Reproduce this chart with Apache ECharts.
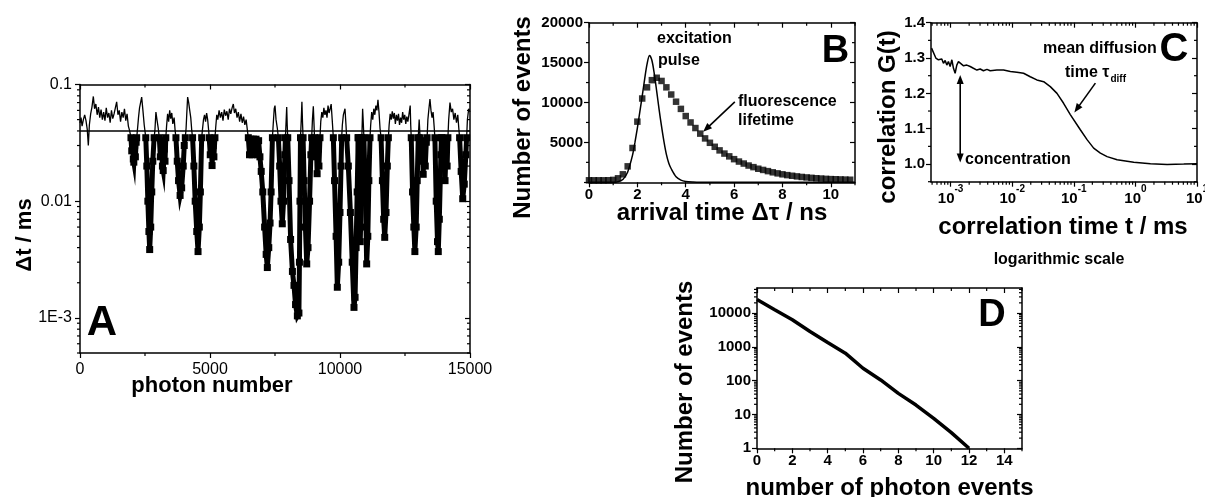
<!DOCTYPE html>
<html><head><meta charset="utf-8">
<script src="https://cdn.jsdelivr.net/npm/echarts@6/dist/echarts.min.js"></script>
<style>html,body{margin:0;padding:0;background:#fff}#c{width:1205px;height:497px}</style>
</head><body><div id="c"></div>
<script>
// ---------------- DATA ----------------
// Panel A: inter-photon time trace (photon number, Δt in ms)
const threshold = 0.035;
const traceNoise = [
[0,0.047],[40,0.052],[80,0.044],[130,0.05],[180,0.055],[230,0.049],[280,0.041],[320,0.030],[360,0.045],[410,0.056],[460,0.064],[513,0.079],[560,0.062],[610,0.068],[660,0.055],[710,0.064],[760,0.052],[810,0.061],[860,0.050],[910,0.058],[960,0.049],[1010,0.063],[1060,0.052],[1110,0.057],[1160,0.047],[1210,0.060],[1260,0.051],[1310,0.056],[1360,0.063],[1410,0.071],[1460,0.055],[1510,0.060],[1560,0.048],[1610,0.058],[1660,0.052],[1710,0.062],[1760,0.049],[1810,0.056],[1860,0.044],[1910,0.040],
[2210,0.041],[2250,0.052],[2290,0.063],[2330,0.070],[2372,0.078],[2420,0.060],[2470,0.045],
[2880,0.040],[2920,0.058],[2960,0.050],[3010,0.042],
[3330,0.044],[3370,0.056],[3410,0.048],[3450,0.060],[3490,0.051],[3530,0.057],[3570,0.046],[3620,0.052],[3660,0.040],
[4080,0.042],[4110,0.058],[4140,0.078],[4180,0.070],[4220,0.060],[4260,0.052],[4300,0.040],
[4710,0.041],[4750,0.050],[4790,0.055],[4830,0.048],[4870,0.057],[4910,0.050],[4950,0.040],
[5220,0.043],[5260,0.055],[5300,0.050],[5350,0.060],[5400,0.052],[5450,0.058],[5500,0.049],[5550,0.061],[5600,0.054],[5650,0.059],[5700,0.050],[5750,0.062],[5800,0.056],[5850,0.063],[5897,0.068],[5940,0.057],[5990,0.062],[6040,0.052],[6090,0.058],[6140,0.048],[6190,0.056],[6240,0.047],[6290,0.053],[6340,0.045],[6390,0.050],[6440,0.040],
[7430,0.045],[7470,0.062],[7500,0.066],[7540,0.050],[7590,0.042],
[7930,0.050],[7950,0.064],[7970,0.045],
[8510,0.050],[8535,0.071],[8560,0.046],
[8940,0.050],[8974,0.065],[9000,0.046],
[9260,0.048],[9300,0.058],[9340,0.052],[9380,0.063],[9420,0.055],[9460,0.060],[9500,0.052],[9540,0.066],[9580,0.057],[9620,0.062],[9660,0.068],[9700,0.050],
[10090,0.045],[10130,0.055],[10192,0.062],[10230,0.045],
[10870,0.062],[10890,0.050],
[11180,0.045],[11220,0.058],[11260,0.050],[11300,0.062],[11340,0.055],[11380,0.066],[11420,0.060],[11460,0.074],[11500,0.058],[11540,0.042],
[11890,0.045],[11930,0.056],[11970,0.050],[12010,0.059],[12050,0.051],[12090,0.057],[12130,0.046],[12170,0.055],[12210,0.049],[12250,0.056],[12290,0.045],[12330,0.052],[12370,0.047],[12410,0.058],[12450,0.050],[12490,0.055],[12530,0.046],[12570,0.053],[12610,0.048],[12650,0.055],[12700,0.066],[12720,0.045],
[13045,0.050],
[13380,0.050],[13420,0.062],[13460,0.075],[13500,0.060],[13540,0.052],[13580,0.058],[13620,0.044],
[14180,0.050],[14230,0.070],[14280,0.058],[14330,0.062],[14380,0.050],[14430,0.057],[14480,0.047],[14530,0.055],[14570,0.042],
[14900,0.050],[14950,0.062],[15000,0.058]
];
// photon bursts (points below threshold)
const bursts = [
[[1960,0.035],[1990,0.027],[2020,0.033],[2050,0.023],[2070,0.0216],[2100,0.03],[2130,0.024],[2160,0.032],[2180,0.035]],
[[2530,0.035],[2570,0.02],[2610,0.01],[2650,0.0055],[2680,0.00385],[2720,0.006],[2760,0.012],[2800,0.022],[2850,0.035]],
[[3050,0.035],[3090,0.024],[3130,0.033],[3170,0.02],[3200,0.0183],[3240,0.028],[3270,0.022],[3300,0.035]],
[[3690,0.035],[3740,0.022],[3790,0.015],[3850,0.0112],[3910,0.013],[3970,0.02],[4010,0.03],[4050,0.035]],
[[4330,0.035],[4380,0.02],[4430,0.01],[4490,0.0055],[4540,0.0037],[4590,0.006],[4630,0.012],[4680,0.035]],
[[4970,0.035],[5010,0.025],[5050,0.033],[5080,0.0202],[5120,0.03],[5150,0.024],[5190,0.035]],
[[6474,0.035],[6520,0.025],[6570,0.034],[6620,0.025],[6670,0.034],[6720,0.026],[6770,0.034],[6820,0.025],[6870,0.033],[6920,0.024],[6970,0.018],[7030,0.012],[7100,0.006],[7160,0.0035],[7205,0.0027],[7260,0.004],[7310,0.0065],[7350,0.012],[7400,0.035]],
[[7630,0.035],[7680,0.02],[7730,0.01],[7780,0.0064],[7830,0.01],[7880,0.025],[7900,0.035]],
[[7990,0.035],[8040,0.015],[8100,0.0047],[8170,0.0025],[8230,0.0019],[8290,0.0013],[8360,0.00104],[8420,0.0011],[8440,0.003],[8460,0.01],[8480,0.035]],
[[8580,0.035],[8620,0.015],[8670,0.006],[8720,0.0029],[8770,0.004],[8830,0.01],[8880,0.025],[8910,0.035]],
[[9020,0.035],[9060,0.024],[9090,0.033],[9120,0.0172],[9160,0.028],[9190,0.02],[9230,0.035]],
[[9744,0.035],[9790,0.015],[9850,0.005],[9897,0.00183],[9950,0.003],[10000,0.008],[10040,0.02],[10064,0.035]],
[[10256,0.035],[10320,0.02],[10400,0.008],[10470,0.003],[10538,0.00123],[10580,0.0015],[10620,0.004],[10660,0.012],[10700,0.035]],
[[10700,0.035],[10740,0.012],[10780,0.0045],[10820,0.012],[10840,0.035]],
[[10920,0.035],[10960,0.015],[11000,0.006],[11026,0.0029],[11070,0.005],[11110,0.015],[11154,0.035]],
[[11580,0.035],[11630,0.015],[11680,0.007],[11720,0.0049],[11770,0.008],[11820,0.02],[11860,0.035]],
[[12740,0.035],[12790,0.012],[12840,0.006],[12880,0.0037],[12930,0.006],[12970,0.015],[13010,0.035]],
[[13080,0.035],[13120,0.022],[13160,0.033],[13200,0.017],[13240,0.03],[13280,0.02],[13320,0.032],[13350,0.035]],
[[13650,0.035],[13700,0.01],[13750,0.0045],[13780,0.0037],[13820,0.007],[13880,0.025],[13900,0.035]],
[[13920,0.035],[13960,0.02],[14000,0.032],[14040,0.015],[14080,0.028],[14120,0.02],[14150,0.035]],
[[14600,0.035],[14660,0.018],[14720,0.0105],[14780,0.014],[14840,0.025],[14870,0.035]]
];
// Panel B: excitation pulse (line) and fluorescence decay (squares), time in ns
const pulse = [[0,0],[1.0,0],[1.2,60],[1.4,350],[1.6,1300],[1.8,3400],[1.9,5000],[2.0,6800],[2.1,8800],[2.2,10800],[2.3,12900],[2.4,14800],[2.5,15900],[2.6,15300],[2.7,13600],[2.8,11400],[2.9,9100],[3.0,7000],[3.1,5100],[3.2,3500],[3.3,2400],[3.4,1700],[3.6,700],[3.8,280],[4.0,110],[4.3,30],[4.6,0],[11,0]];
const lifetime = [[0,250],[0.2,250],[0.4,250],[0.6,250],[0.8,260],[1.0,300],[1.2,500],[1.4,1000],[1.6,2000],[1.8,4300],[2.0,7600],[2.2,10500],[2.4,11900],[2.6,12800],[2.8,13100],[3.0,12700],[3.2,11900],[3.4,11000],[3.6,10100],[3.8,9200],[4.0,8300],[4.2,7500],[4.4,6800],[4.6,6100],[4.8,5500],[5.0,4950],[5.2,4450],[5.4,4000],[5.6,3600],[5.8,3250],[6.0,2900],[6.2,2600],[6.4,2350],[6.6,2100],[6.8,1900],[7.0,1700],[7.2,1550],[7.4,1400],[7.6,1250],[7.8,1120],[8.0,1000],[8.2,900],[8.4,820],[8.6,740],[8.8,670],[9.0,610],[9.2,560],[9.4,510],[9.6,470],[9.8,430],[10.0,400],[10.2,380],[10.4,360],[10.6,340],[10.8,320]];
// Panel C: correlation G(t), t in ms
const correlation = [[0.00049,1.328],[0.000525,1.323],[0.000575,1.300],[0.000634,1.295],[0.000676,1.290],[0.000719,1.297],[0.000764,1.285],[0.000815,1.293],[0.000867,1.280],[0.00092,1.290],[0.000982,1.276],[0.001047,1.295],[0.001112,1.271],[0.001183,1.257],[0.001259,1.280],[0.00134,1.290],[0.001426,1.285],[0.001622,1.278],[0.001832,1.280],[0.002075,1.276],[0.002344,1.271],[0.002667,1.266],[0.00302,1.269],[0.00341,1.264],[0.00389,1.268],[0.00439,1.264],[0.00564,1.266],[0.00724,1.266],[0.00933,1.262],[0.0119,1.260],[0.01528,1.257],[0.01963,1.247],[0.0251,1.238],[0.0324,1.233],[0.0415,1.219],[0.0533,1.200],[0.0682,1.172],[0.0877,1.140],[0.1276,1.097],[0.164,1.069],[0.21,1.045],[0.27,1.031],[0.347,1.021],[0.505,1.012],[0.94,1.005],[1.754,1.001],[3.27,0.999],[6.1,1.0],[10,1.001]];
// Panel D: photon count histogram
const photonEvents = [0,1,2,3,4,5,6,7,8,9,10,11,12];
const eventCounts = [25000,12500,6300,2840,1340,650,233,105,42,19,7.7,2.9,1];
// tick values
const aXTicks = [0,5000,10000,15000], aYTicks = [0.001,0.01,0.1];
const bXTicks = [0,2,4,6,8,10], bYTicks = [0,5000,10000,15000,20000];
const cXTicks = [0.001,0.01,0.1,1,10], cYTicks = [1.0,1.1,1.2,1.3,1.4];
const dXTicks = [0,2,4,6,8,10,12,14], dYTicks = [1,10,100,1000,10000];

// ---------------- CHART ----------------
const FONT = '"Liberation Sans", Arial, Helvetica, sans-serif';
const K = '#000';
const chart = echarts.init(document.getElementById('c'), null, {renderer: 'canvas'});

function axis(p) {
  return {
    gridIndex: p.grid, type: p.type || 'value', position: p.pos, min: p.min, max: p.max,
    axisLine: {show: true, onZero: false, lineStyle: {color: K, width: 1.5}},
    axisTick: {show: true, inside: !!p.inside, length: 5, customValues: p.ticks, lineStyle: {color: K, width: 1.2}},
    axisLabel: p.labels ? {show: true, customValues: p.ticks, color: K, fontFamily: FONT,
      fontSize: p.fs || 15, fontWeight: p.fw || 'bold', margin: p.margin || 7, formatter: p.fmt, rich: p.rich} : {show: false},
    splitLine: {show: false}, minorTick: {show: false}, minorSplitLine: {show: false}
  };
}
function logMinor(lo, hi) {
  const out = [];
  for (let e = -6; e <= 6; e++) for (let m = 2; m <= 9; m++) {
    const v = m * Math.pow(10, e);
    if (v >= lo * 0.999 && v <= hi * 1.001) out.push(+v.toPrecision(6));
  }
  return out;
}
function minorSeries(xi, yi, xr, yr, xm, ym) {
  const data = xm.map(v => [v, yr[0], 0]).concat(ym.map(v => [xr[0], v, 1]));
  return {
    type: 'custom', xAxisIndex: xi, yAxisIndex: yi, silent: true, clip: false, z: 5, animation: false,
    dimensions: ['x', 'y', 's'], encode: {x: 0, y: 1}, data,
    renderItem(params, api) {
      const side = api.value(2);
      const st = {stroke: K, lineWidth: 1.2};
      if (side === 0) {
        const v = api.value(0);
        const b = api.coord([v, yr[0]]), t = api.coord([v, yr[1]]);
        return {type: 'group', children: [
          {type: 'line', shape: {x1: b[0], y1: b[1], x2: b[0], y2: b[1] + 3}, style: st},
          {type: 'line', shape: {x1: t[0], y1: t[1], x2: t[0], y2: t[1] + 3}, style: st}]};
      }
      const v = api.value(1);
      const l = api.coord([xr[0], v]), r = api.coord([xr[1], v]);
      return {type: 'group', children: [
        {type: 'line', shape: {x1: l[0] - 3, y1: l[1], x2: l[0], y2: l[1]}, style: st},
        {type: 'line', shape: {x1: r[0] - 3, y1: r[1], x2: r[0], y2: r[1]}, style: st}]};
    }
  };
}

const supRich = {
  b: {fontFamily: FONT, fontWeight: 'bold', fontSize: 15, lineHeight: 22, verticalAlign: 'bottom', color: K},
  s: {fontFamily: FONT, fontWeight: 'bold', fontSize: 10, lineHeight: 22, verticalAlign: 'top', color: K}
};

const aRange = {x: [0, 15000], y: [0.0005, 0.1]};
const bRange = {x: [0, 11], y: [0, 20000]};
const cRange = {x: [0.00048, 10], y: [0.95, 1.4]};
const dRange = {x: [0, 15], y: [1, 55000]};

const gridBase = {show: false, containLabel: false, outerBoundsMode: 'none'};
const traceAll = traceNoise.concat(...bursts).sort((a, b) => a[0] - b[0]);

const option = {
  animation: false,
  backgroundColor: '#fff',
  grid: [
    Object.assign({left: 80, top: 84.5, width: 390, height: 268.5}, gridBase),
    Object.assign({left: 589, top: 22.7, width: 266, height: 159.6}, gridBase),
    Object.assign({left: 931, top: 22.7, width: 266, height: 159}, gridBase),
    Object.assign({left: 757, top: 288, width: 265, height: 160.3}, gridBase)
  ],
  xAxis: [
    axis({grid: 0, pos: 'bottom', min: aRange.x[0], max: aRange.x[1], ticks: aXTicks, labels: true, fs: 16, fw: 'normal', margin: 9, fmt: v => String(v)}),
    axis({grid: 0, pos: 'top', min: aRange.x[0], max: aRange.x[1], ticks: aXTicks, inside: true}),
    axis({grid: 1, pos: 'bottom', min: bRange.x[0], max: bRange.x[1], ticks: bXTicks, labels: true, margin: 5, fmt: v => String(v)}),
    axis({grid: 1, pos: 'top', min: bRange.x[0], max: bRange.x[1], ticks: bXTicks, inside: true}),
    axis({grid: 2, type: 'log', pos: 'bottom', min: cRange.x[0], max: cRange.x[1], ticks: cXTicks, labels: true, margin: 3,
      fmt: v => '{b|10}{s|' + Math.round(Math.log10(v)) + '}', rich: supRich}),
    axis({grid: 2, type: 'log', pos: 'top', min: cRange.x[0], max: cRange.x[1], ticks: cXTicks, inside: true}),
    axis({grid: 3, pos: 'bottom', min: dRange.x[0], max: dRange.x[1], ticks: dXTicks, labels: true, margin: 5, fmt: v => String(v)}),
    axis({grid: 3, pos: 'top', min: dRange.x[0], max: dRange.x[1], ticks: dXTicks, inside: true})
  ],
  yAxis: [
    axis({grid: 0, type: 'log', pos: 'left', min: aRange.y[0], max: aRange.y[1], ticks: aYTicks, labels: true, fs: 16, fw: 'normal', margin: 8,
      fmt: v => v > 0.05 ? '0.1' : (v > 0.005 ? '0.01' : '1E-3')}),
    axis({grid: 0, type: 'log', pos: 'right', min: aRange.y[0], max: aRange.y[1], ticks: aYTicks, inside: true}),
    axis({grid: 1, pos: 'left', min: bRange.y[0], max: bRange.y[1], ticks: bYTicks, labels: true, margin: 6, fmt: v => v === 0 ? '' : String(v)}),
    axis({grid: 1, pos: 'right', min: bRange.y[0], max: bRange.y[1], ticks: bYTicks, inside: true}),
    axis({grid: 2, pos: 'left', min: cRange.y[0], max: cRange.y[1], ticks: cYTicks, labels: true, margin: 6, fmt: v => v.toFixed(1)}),
    axis({grid: 2, pos: 'right', min: cRange.y[0], max: cRange.y[1], ticks: cYTicks, inside: true}),
    axis({grid: 3, type: 'log', pos: 'left', min: dRange.y[0], max: dRange.y[1], ticks: dYTicks, labels: true, margin: 6, fmt: v => String(Math.round(v))}),
    axis({grid: 3, type: 'log', pos: 'right', min: dRange.y[0], max: dRange.y[1], ticks: dYTicks, inside: true})
  ],
  series: [
    {type: 'line', name: 'trace', xAxisIndex: 0, yAxisIndex: 0, data: traceAll, symbol: 'none', showSymbol: false,
      lineStyle: {color: K, width: 1.3}, z: 3,
      markLine: {silent: true, symbol: ['none', 'none'], label: {show: false}, animation: false,
        lineStyle: {color: K, width: 1.6, type: 'solid'}, data: [{yAxis: threshold}]}},
    ...bursts.map(b => ({type: 'line', xAxisIndex: 0, yAxisIndex: 0, data: b, symbol: 'rect', symbolSize: 7, showSymbol: true,
      itemStyle: {color: K}, lineStyle: {color: K, width: 5, join: 'miter'}, z: 4})),
    {type: 'line', name: 'pulse', xAxisIndex: 2, yAxisIndex: 2, data: pulse, symbol: 'none', smooth: 0.3,
      lineStyle: {color: K, width: 1.5}},
    {type: 'scatter', name: 'lifetime', xAxisIndex: 2, yAxisIndex: 2, data: lifetime, symbol: 'rect', symbolSize: 6.5,
      itemStyle: {color: K}},
    {type: 'line', name: 'G', xAxisIndex: 4, yAxisIndex: 4, data: correlation, symbol: 'none',
      lineStyle: {color: K, width: 1.5}},
    {type: 'line', name: 'counts', xAxisIndex: 6, yAxisIndex: 6, data: photonEvents.map((x, i) => [x, eventCounts[i]]), symbol: 'none',
      lineStyle: {color: K, width: 3.5}},
    minorSeries(0, 0, aRange.x, aRange.y, [2500, 7500, 12500], logMinor(aRange.y[0], aRange.y[1])),
    minorSeries(2, 2, bRange.x, bRange.y, [1, 3, 5, 7, 9, 11], [2500, 7500, 12500, 17500]),
    minorSeries(4, 4, cRange.x, cRange.y, logMinor(cRange.x[0], cRange.x[1]), [0.95, 1.05, 1.15, 1.25, 1.35]),
    minorSeries(6, 6, dRange.x, dRange.y, [1, 3, 5, 7, 9, 11, 13, 15], logMinor(dRange.y[0], dRange.y[1]))
  ]
};
chart.setOption(option);

// ---------------- annotations ----------------
function T(text, x, y, size, o) {
  o = o || {};
  return {type: 'text', x: x, y: y, rotation: o.rot || 0, silent: true, z: 100,
    style: {text: text, x: 0, y: 0, fill: K, font: (o.w || 'bold') + ' ' + size + 'px ' + FONT,
      align: o.align || 'center', verticalAlign: 'middle'}};
}
function arrow(p0, p1, both) {
  const head = 9, w = 3.5;
  const dx = p1[0] - p0[0], dy = p1[1] - p0[1], L = Math.hypot(dx, dy), ux = dx / L, uy = dy / L;
  const hp = (tip, ux, uy) => ({type: 'polygon', silent: true, z: 100, shape: {points: [tip,
    [tip[0] - ux * head - uy * w, tip[1] - uy * head + ux * w],
    [tip[0] - ux * head + uy * w, tip[1] - uy * head - ux * w]]}, style: {fill: K}});
  const s = both ? [p0[0] + ux * head * 0.8, p0[1] + uy * head * 0.8] : p0;
  const els = [{type: 'line', silent: true, z: 100, shape: {x1: s[0], y1: s[1], x2: p1[0] - ux * head * 0.8, y2: p1[1] - uy * head * 0.8},
    style: {stroke: K, lineWidth: 1.6}}, hp(p1, ux, uy)];
  if (both) els.push(hp(p0, -ux, -uy));
  return els;
}
const px = (g, v) => chart.convertToPixel({xAxisIndex: g * 2, yAxisIndex: g * 2}, v);
const ctx = document.createElement('canvas').getContext('2d');
ctx.font = 'bold 16px ' + FONT;
const wTime = ctx.measureText('time \u03c4').width;

const R = Math.PI / 2;
const graphics = [
  T('A', 102, 323, 42),
  T('B', 835.5, 51.5, 38),
  T('C', 1174, 50, 40),
  T('D', 992, 316, 38),
  T('\u0394t / ms', 25, 235, 22, {rot: R}),
  T('photon number', 212, 386, 22),
  T('Number of events', 523, 117.5, 24, {rot: R}),
  T('arrival time \u0394\u03c4 / ns', 722, 213, 24),
  T('correlation G(t)', 888, 117, 24, {rot: R}),
  T('correlation time t / ms', 1063, 227, 24),
  T('logarithmic scale', 1059, 260, 16),
  T('Number of events', 685, 382, 24, {rot: R}),
  T('number of photon events', 889.5, 488, 24),
  T('excitation', 657, 39, 16, {align: 'left'}),
  T('pulse', 658, 61, 16, {align: 'left'}),
  T('fluorescence', 738, 102, 16, {align: 'left'}),
  T('lifetime', 738, 121, 16, {align: 'left'}),
  T('mean diffusion', 1043, 49, 16, {align: 'left'}),
  T('time \u03c4', 1065, 73, 16, {align: 'left'}),
  T('diff', 1065 + wTime + 1, 79, 10, {align: 'left'}),
  T('concentration', 965, 160, 16, {align: 'left'}),
  ...arrow(px(1, [6.03, 10075]), px(1, [4.72, 6325])),
  ...arrow(px(2, [0.224, 1.229]), px(2, [0.102, 1.146])),
  ...arrow(px(2, [0.00143, 1.252]), px(2, [0.00143, 1.004]), true)
];
chart.setOption({graphic: graphics});
</script></body></html>
